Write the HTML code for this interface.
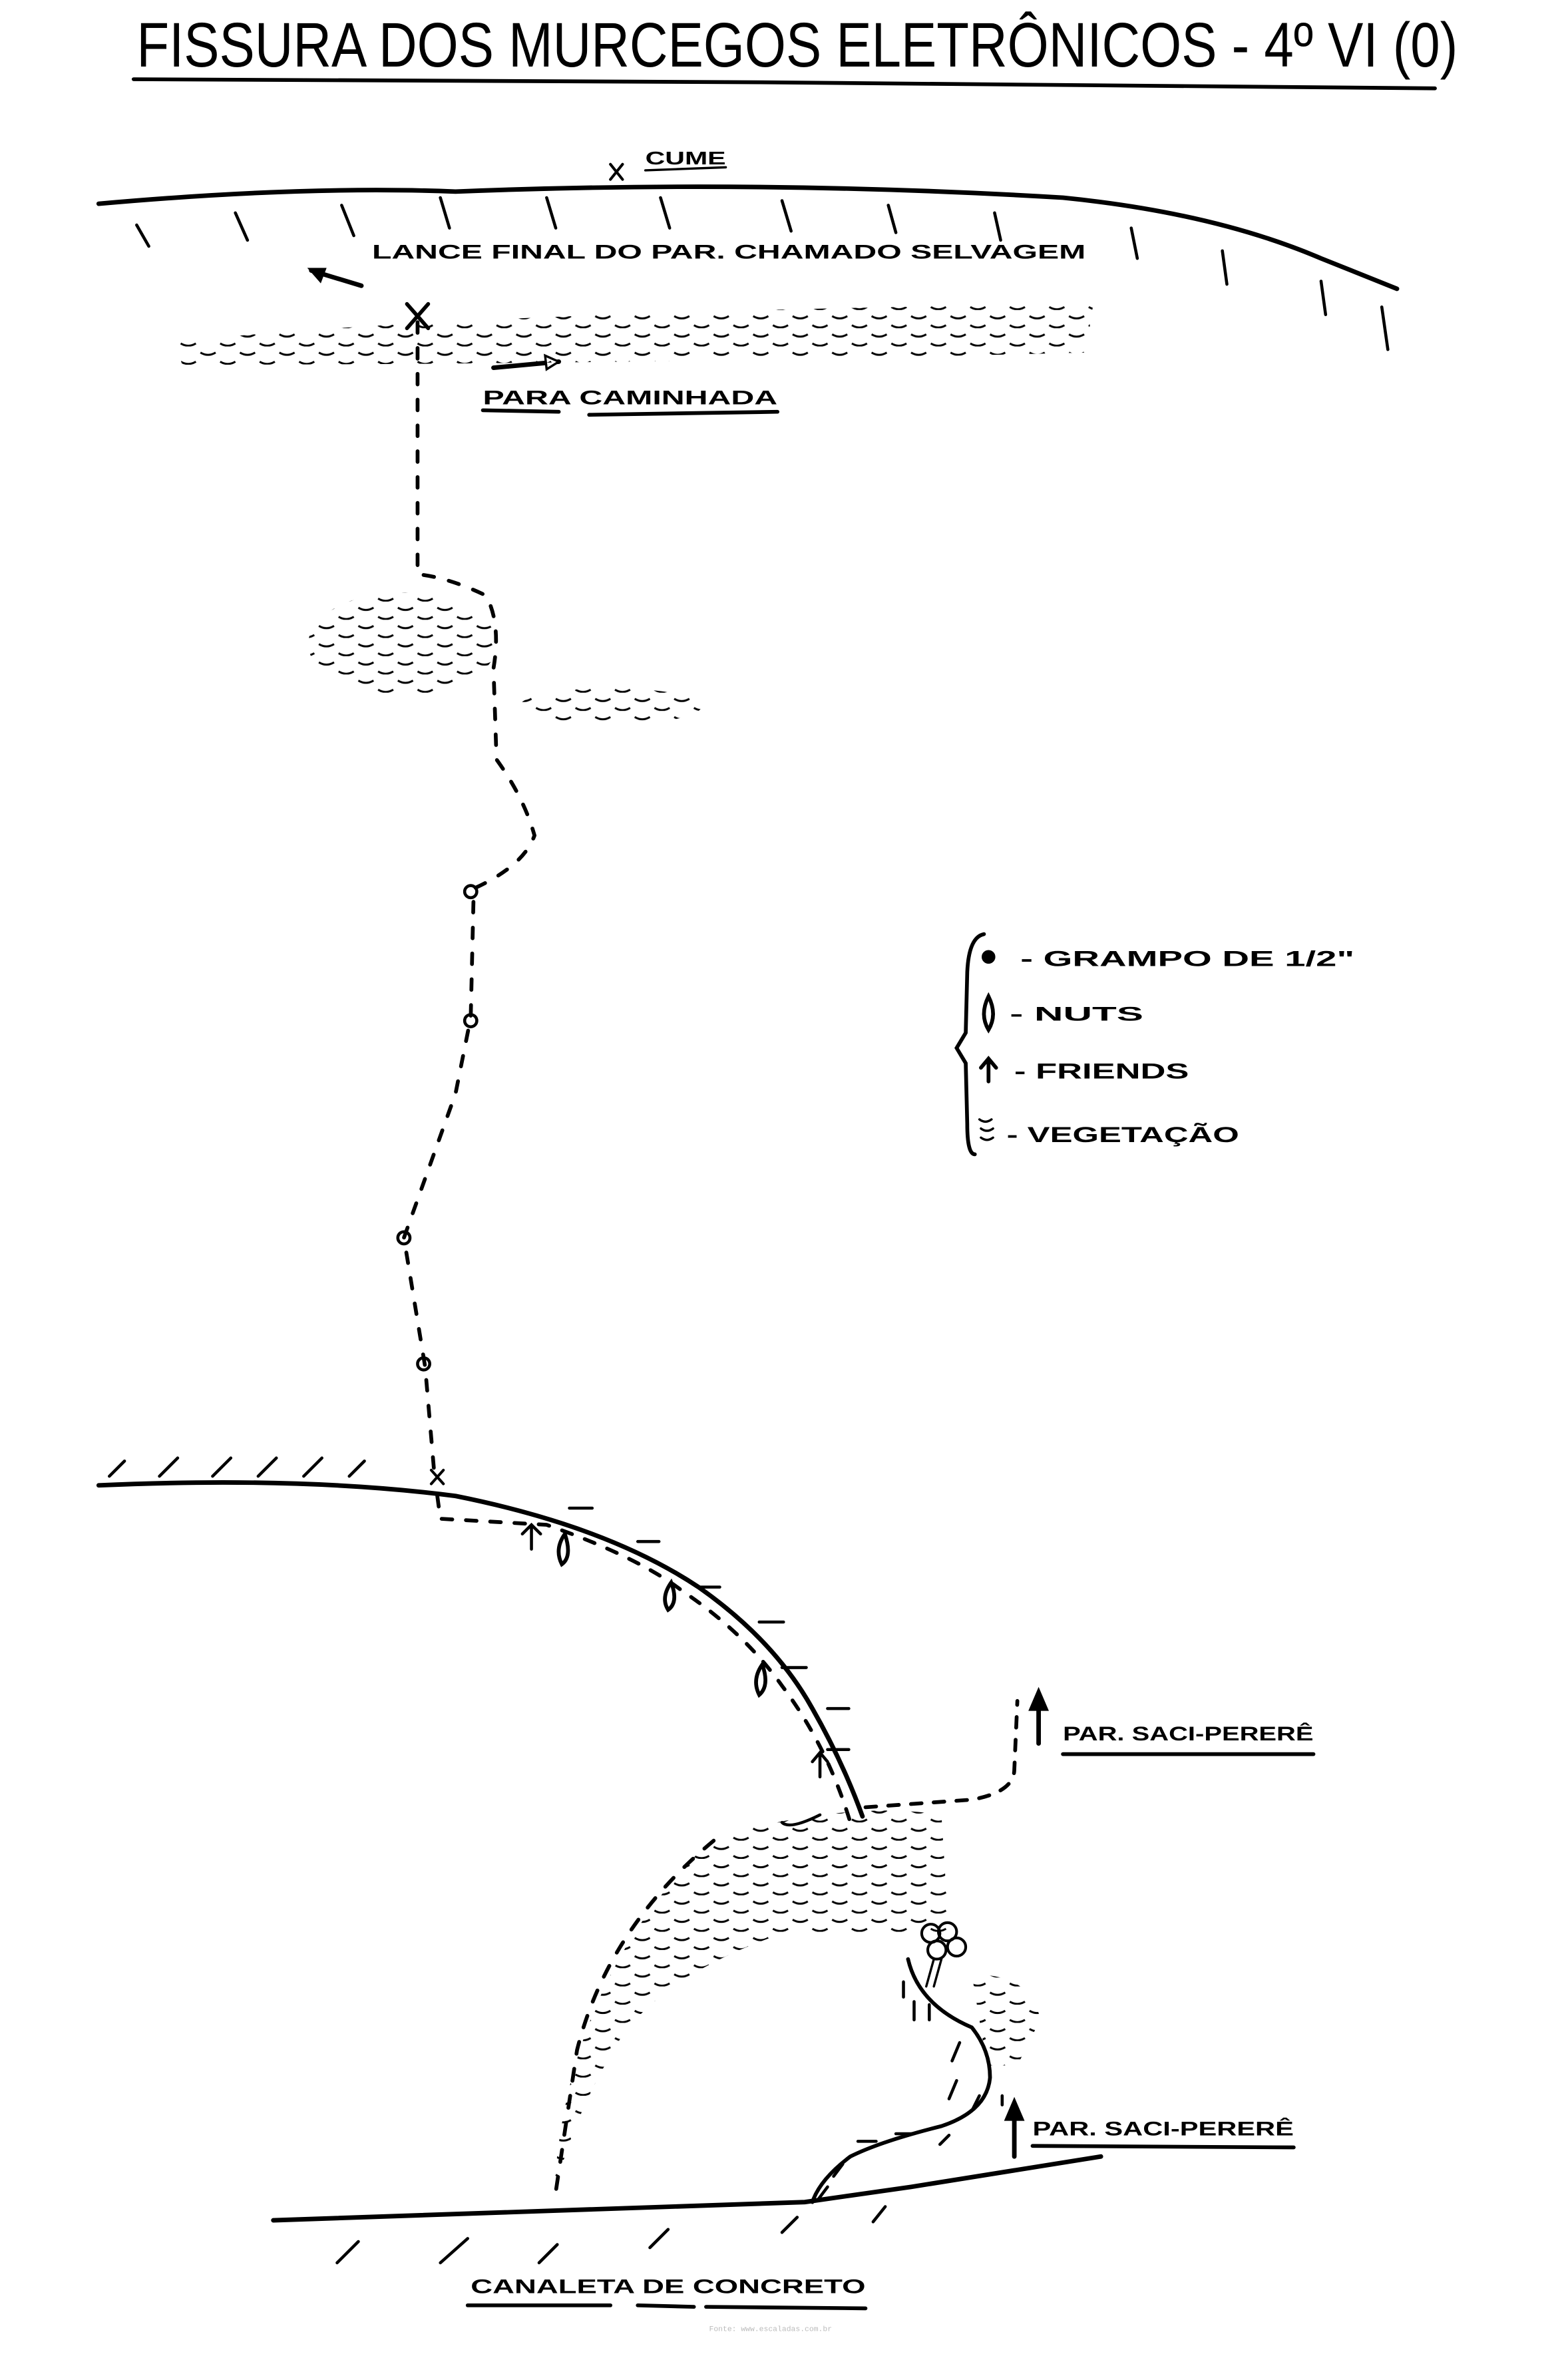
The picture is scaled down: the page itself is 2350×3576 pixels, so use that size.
<!DOCTYPE html>
<html><head><meta charset="utf-8"><style>
html,body{margin:0;padding:0;background:#fff;}
svg{display:block;}
text{font-family:"Liberation Sans",sans-serif;fill:#000;font-weight:bold;}
</style></head><body>
<svg width="2350" height="3576" viewBox="0 0 1030 1567" xmlns="http://www.w3.org/2000/svg">
<defs>
<pattern id="veg" width="26" height="12" patternUnits="userSpaceOnUse">
<path d="M2 4 q5 3 10 0 M15 10 q5 3 10 0" stroke="#000" stroke-width="1.3" fill="none"/>
</pattern>
</defs>
<rect width="1030" height="1567" fill="#fff"/>
<g stroke="#000" fill="none" stroke-linecap="round">
<!-- title underline -->
<path d="M88 52 L500 54 L945 58" stroke-width="2.5"/>
<!-- top ridge -->
<path d="M65 134 Q200 122 300 126 Q500 118 700 130 Q800 140 870 170 L920 190" stroke-width="3"/>
<path d="M90 148 l8 14 M155 140 l8 18 M225 135 l8 20 M290 130 l6 20 M360 130 l6 20 M435 130 l6 20 M515 132 l6 20 M585 135 l5 18 M655 140 l4 18 M745 150 l4 20 M805 165 l3 22 M870 185 l3 22 M910 202 l4 28" stroke-width="2"/>
<!-- X cume -->
<path d="M402 108 l8 10 M410 108 l-8 10" stroke-width="1.8"/>
<path d="M425 112 L478 110" stroke-width="1.5"/>
<!-- arrow left-up -->
<path d="M238 188 L205 178" stroke-width="3"/><path d="M204 177 l10 0 l-3 8 z" fill="#000" stroke-width="1.5"/>
<!-- X -->
<path d="M268 200 l14 16 M282 200 l-14 16" stroke-width="2.5"/>
<!-- arrow right -->
<path d="M325 242 L368 238" stroke-width="3"/><path d="M368 238 l-9 -4 l1 9 z" fill="#fff" stroke-width="1.5"/>
<path d="M318 270 L368 271 M388 273 L512 271" stroke-width="2.5"/>
<!-- dashed route -->
<path d="M275 212 L275 378 Q295 380 320 392 Q330 410 325 440 L327 500 Q345 525 352 550 Q345 570 312 585 L310 670 L300 720 L266 815 L280 900 L286 970" stroke-width="2.5" stroke-dasharray="7 10"/>
<circle cx="310" cy="587" r="4" stroke-width="2"/><circle cx="310" cy="672" r="4" stroke-width="2"/>
<circle cx="266" cy="815" r="4" stroke-width="2"/><circle cx="279" cy="898" r="4" stroke-width="2"/>
<path d="M284 968 l8 9 M292 968 l-8 9" stroke-width="1.8"/>
<!-- lower ledge -->
<path d="M65 978 Q200 972 300 985 Q400 1005 460 1045 Q510 1080 535 1125 Q555 1160 568 1196" stroke-width="3"/>
<path d="M72 972 l10 -10 M105 972 l12 -12 M140 972 l12 -12 M170 972 l12 -12 M200 972 l12 -12 M230 972 l10 -10" stroke-width="2"/>
<path d="M288 985 L290 1000 L360 1004 Q420 1025 450 1048 Q490 1075 515 1110 Q545 1150 560 1200" stroke-width="2.5" stroke-dasharray="7 9"/>
<path d="M372 1010 Q365 1020 370 1030 Q377 1025 372 1010 Z M442 1042 Q435 1052 440 1060 Q447 1055 442 1042 Z M502 1096 Q495 1106 500 1116 Q507 1110 502 1096 Z" stroke-width="2.5"/>
<path d="M350 1005 v15 M344 1010 l6 -6 l6 6 M540 1155 v15 M535 1160 l5 -6 l5 6" stroke-width="2"/>
<path d="M375 993 h15 M420 1015 h14 M460 1045 h14 M500 1068 h16 M515 1098 h16 M545 1125 h14 M545 1152 h14" stroke-width="2"/>
<!-- right branch -->
<path d="M570 1190 L640 1185 Q668 1180 668 1165 L670 1120" stroke-width="2.5" stroke-dasharray="7 8"/>
<path d="M684 1148 V1122" stroke-width="3"/><path d="M678 1126 l6 -14 l6 14 z" fill="#000"/>
<path d="M700 1155 L865 1155" stroke-width="2.5"/>
<!-- vegetation regions -->
<ellipse cx="265" cy="424" rx="62" ry="34" fill="url(#veg)" stroke="none"/>
<ellipse cx="402" cy="465" rx="60" ry="12" fill="url(#veg)" stroke="none"/>
<path d="M115 225 Q300 205 720 200 L715 232 Q400 240 120 240 Z" fill="url(#veg)" stroke="none"/>
<path d="M470 1210 Q560 1185 620 1195 L625 1275 Q560 1270 510 1275 Q440 1300 410 1340 Q385 1380 372 1420 L365 1440 Q375 1300 470 1210 Z" fill="url(#veg)" stroke="none"/>
<path d="M640 1300 Q680 1300 685 1330 L670 1360 L650 1360 Z" fill="url(#veg)" stroke="none"/>
<path d="M470 1212 Q400 1270 380 1350 L365 1450" stroke-width="2.5" stroke-dasharray="8 10"/>
<path d="M540 1195 Q520 1205 515 1200" stroke-width="2"/>
<!-- tree -->
<circle cx="613" cy="1273" r="6" stroke-width="1.8"/><circle cx="624" cy="1272" r="6" stroke-width="1.8"/><circle cx="630" cy="1282" r="6" stroke-width="1.8"/><circle cx="617" cy="1284" r="6" stroke-width="1.8"/>
<path d="M615 1290 L610 1308 M620 1290 L615 1308" stroke-width="1.5"/>
<!-- snake route -->
<path d="M598 1290 Q605 1320 640 1335 Q652 1350 652 1368 Q650 1390 620 1400 Q580 1410 560 1420 Q540 1435 535 1450" stroke-width="2.5"/>
<path d="M595 1305 v10 M602 1318 v12 M612 1320 v10 M632 1345 l-5 12 M630 1370 l-5 12 M645 1380 l-5 10 M625 1406 l-6 6 M590 1405 h12 M565 1410 h12 M555 1425 l-6 8 M545 1440 l-6 8 M660 1380 v6" stroke-width="2"/>
<path d="M668 1420 V1392" stroke-width="3"/><path d="M662 1396 l6 -14 l6 14 z" fill="#000"/>
<path d="M680 1413 L852 1414" stroke-width="2.5"/>
<!-- ground -->
<path d="M180 1462 L530 1450 L600 1440 L725 1420" stroke-width="3"/>
<path d="M222 1490 l14 -14 M290 1490 l18 -16 M355 1490 l12 -12 M428 1480 l12 -12 M515 1470 l10 -10 M575 1463 l8 -10" stroke-width="2"/>
<path d="M308 1518 L402 1518 M420 1518 L457 1519 M465 1519 L570 1520" stroke-width="2.5"/>
<!-- legend brace -->
<path d="M648 615 Q638 617 637 640 L636 680 L630 690 L636 700 L637 740 Q637 760 642 760" stroke-width="2.5"/>
<circle cx="651" cy="630" r="4" fill="#000"/>
<path d="M651 656 Q645 668 651 678 Q657 668 651 656 Z" stroke-width="2.5"/>
<path d="M651 712 V698 M646 703 l5 -6 l5 6" stroke-width="2.5"/>
<path d="M645 737 q4 3 8 0 M646 743 q4 3 8 0 M646 749 q4 3 8 0" stroke-width="1.5"/>
</g>
<text x="90" y="45" font-size="36" font-weight="normal" textLength="870" lengthAdjust="spacingAndGlyphs" transform="translate(0,-8) scale(1,1.15)" style="font-weight:normal">FISSURA DOS MURCEGOS ELETRÔNICOS - 4º VI (0)</text>
<text x="425" y="108" font-size="12" textLength="53" lengthAdjust="spacingAndGlyphs">CUME</text>
<text x="245" y="170" font-size="13" textLength="470" lengthAdjust="spacingAndGlyphs">LANCE FINAL DO PAR. CHAMADO SELVAGEM</text>
<text x="318" y="266" font-size="13" textLength="194" lengthAdjust="spacingAndGlyphs">PARA  CAMINHADA</text>
<text x="672" y="636" font-size="14" textLength="220" lengthAdjust="spacingAndGlyphs">- GRAMPO DE 1/2"</text>
<text x="665" y="672" font-size="13" textLength="88" lengthAdjust="spacingAndGlyphs">- NUTS</text>
<text x="668" y="710" font-size="14" textLength="115" lengthAdjust="spacingAndGlyphs">- FRIENDS</text>
<text x="663" y="752" font-size="14" textLength="153" lengthAdjust="spacingAndGlyphs">- VEGETAÇÃO</text>
<text x="700" y="1146" font-size="13" textLength="165" lengthAdjust="spacingAndGlyphs">PAR. SACI-PERERÊ</text>
<text x="680" y="1406" font-size="13" textLength="172" lengthAdjust="spacingAndGlyphs">PAR. SACI-PERERÊ</text>
<text x="310" y="1510" font-size="13" textLength="260" lengthAdjust="spacingAndGlyphs">CANALETA  DE  CONCRETO</text>
<text x="467" y="1535" font-size="5" fill="#bbb" style="font-weight:normal;fill:#bbb;font-family:'Liberation Mono',monospace">Fonte: www.escaladas.com.br</text>
</svg>
</body></html>
